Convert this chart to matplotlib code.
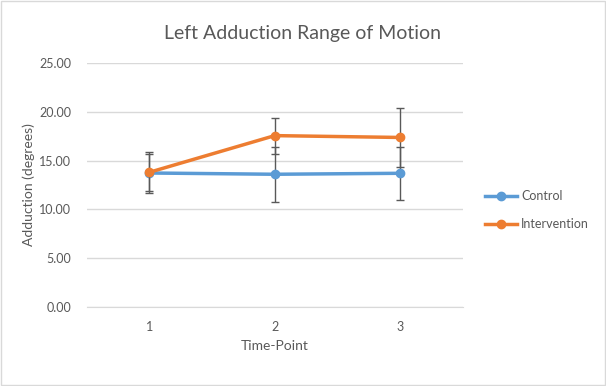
import matplotlib.pyplot as plt
import matplotlib.patches as patches
from matplotlib.lines import Line2D

time_points = [1, 2, 3]
control = [13.73, 13.6, 13.7]
control_err = [2.1, 2.8, 2.73]
intervention = [13.8, 17.56, 17.37]
intervention_err = [1.9, 1.85, 3.0]

plt.rcParams['font.family'] = ['Lato', 'DejaVu Sans']
text_color = '#595959'
grid_color = '#D9D9D9'
blue = '#5B9BD5'
orange = '#ED7D31'

fig = plt.figure(figsize=(6.06, 3.86), dpi=100)
axis = fig.add_axes([86.5 / 606, 1 - 307 / 386, 376.5 / 606, 244 / 386])

axis.errorbar(time_points, control, yerr=control_err, color=blue,
              linewidth=2.5, marker='o', markersize=6, ecolor='#595959',
              elinewidth=1, capsize=3, capthick=1, zorder=3)
axis.errorbar(time_points, intervention, yerr=intervention_err, color=orange,
              linewidth=2.5, marker='o', markersize=6, ecolor='#595959',
              elinewidth=1, capsize=3, capthick=1, zorder=4)

axis.set_xlim(0.5, 3.5)
axis.set_ylim(0, 25)
axis.set_xticks(time_points)
axis.set_yticks([0, 5, 10, 15, 20, 25])
axis.set_yticklabels(["%.2f" % v for v in [0, 5, 10, 15, 20, 25]])
axis.grid(axis='y', color=grid_color, linewidth=1)
axis.set_axisbelow(True)
for side in ['top', 'right', 'left']:
    axis.spines[side].set_visible(False)
axis.spines['bottom'].set_color(grid_color)
axis.tick_params(axis='y', length=0, labelsize=9, colors=text_color, pad=11)
axis.tick_params(axis='x', length=0, labelsize=9, colors=text_color, pad=10)

axis.set_xlabel('Time-Point', fontsize=10, color=text_color, labelpad=5)
axis.set_ylabel('Adduction (degrees)', fontsize=10, color=text_color, labelpad=0)
axis.yaxis.set_label_coords(-(86.5 - 35) / 376.5, 0.5)
fig.text(303 / 606, 1 - 33 / 386, 'Left Adduction Range of Motion',
         ha='center', va='center', fontsize=14, color=text_color)

handles = [Line2D([], [], color=blue, linewidth=2.5, marker='o', markersize=6),
           Line2D([], [], color=orange, linewidth=2.5, marker='o', markersize=6)]
axis.legend(handles, ['Control', 'Intervention'], loc='center left',
            bbox_to_anchor=(1.045, 0.397), frameon=False, fontsize=9,
            labelcolor=text_color, handlelength=2.6, handletextpad=0.3,
            labelspacing=1.3, borderaxespad=0)

fig.patches.append(patches.Rectangle((0.002, 0.002), 0.996, 0.996,
                                     transform=fig.transFigure, fill=False,
                                     edgecolor=grid_color, linewidth=1))

plt.savefig('out.png', dpi=100)
